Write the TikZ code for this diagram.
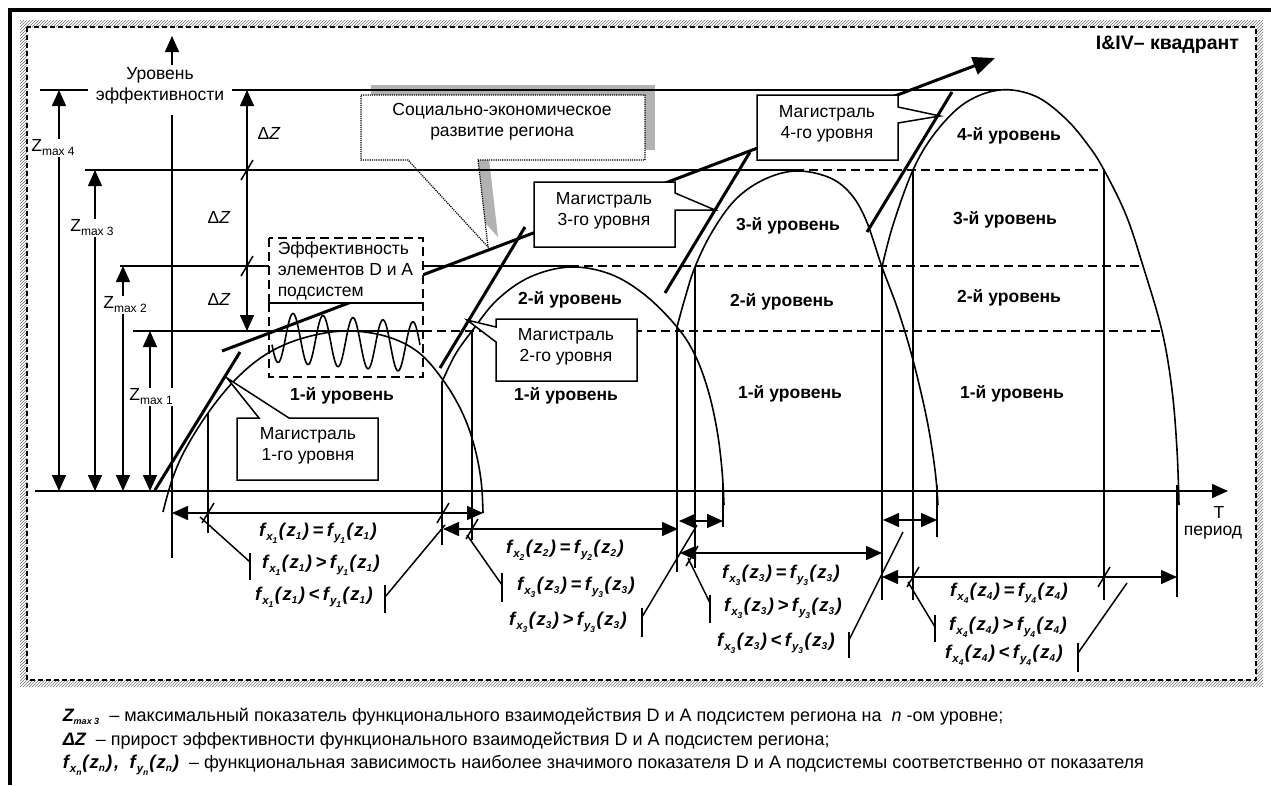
\documentclass[tikz,border=0pt]{standalone}
\usepackage{fontspec}
\setmainfont{Liberation Sans}
\usetikzlibrary{arrows.meta,patterns}
\newcommand\fA{\fontsize{17.5}{21}\selectfont}
\newcommand\fL{\fontsize{18}{22}\selectfont}
\newcommand\zmax[1]{{\fA Z}\raisebox{-4pt}{\fontsize{12}{12}\selectfont max #1}}
\newcommand\fsub[2]{f\kern1pt\raisebox{-4pt}{\fontsize{11.5}{11.5}\selectfont #1\raisebox{-3pt}{\fontsize{8.5}{8.5}\selectfont #2}}}
\newcommand\zsub[1]{z\raisebox{-3.5pt}{\fontsize{10}{10}\selectfont #1}}
\newcommand\frm[2]{{\fontsize{18.5}{20}\selectfont\bfseries\itshape\fsub{x}{#1}\kern1.5pt(\kern1.5pt\zsub{#1}\kern1.5pt)\kern3.5pt#2\kern3.5pt\fsub{y}{#1}\kern1.5pt(\kern1.5pt\zsub{#1}\kern1.5pt)}}
\newcommand\tck[2]{\draw ({#1-6},{#2+10}) -- ({#1+6},{#2-10});}
\begin{document}
\begin{tikzpicture}[x=1pt,y=-1pt,line width=1.5pt,
  >={Triangle[length=16pt,width=14pt]},
  dsh/.style={line width=1.5pt,dash pattern=on 9pt off 5pt},
  mag/.style={line width=3pt},
  arcl/.style={line width=1.6pt},
  mbox/.style={line width=1.5pt,fill=white},
  lbl/.style={font=\fA},
  lvl/.style={font=\fA\bfseries},
  zl/.style={fill=white,inner sep=1pt}]
\path[use as bounding box] (0,0) rectangle (1271,785);
% outer frame
\draw[line width=3.5pt] (10,785) -- (10,10) -- (1271,10);
\fill[pattern=north east lines,pattern color=black!55,even odd rule] (20,20) rectangle (1263,687) (27,27) rectangle (1256,680);
\draw[line width=1.2pt,dash pattern=on 5pt off 3pt] (27,27) rectangle (1256,680);
\node[font=\fontsize{19.5}{23}\selectfont\bfseries,anchor=east] (title) at (1243,45) {I\&IV– квадрант};
% callout social
\fill[gray!60] (371,85) rectangle (655,150);
\fill[gray!60] (418,150) -- (488,150) -- (498,237) -- cycle;
\draw[densely dotted,line width=1.2pt,fill=white] (361,95) -- (645,95) -- (645,160) -- (478,160) -- (488,247) -- (408,160) -- (361,160) -- cycle;
\node[lbl,align=center] (soc) at (502,122) {Социально-экономическое\\развитие региона};
% level lines
\draw (40,90) -- (88,90);
\draw (232,90) -- (1000,90);
\draw (85,170) -- (795,170);
\draw[dsh] (795,170) -- (1105,170);
\draw (120,266) -- (570,266);
\draw[dsh] (570,266) -- (1143,266);
\draw (133,331) -- (423,331);
\draw[dsh] (423,331) -- (1162,331);
% axes
\draw[->] (172,65) -- (172,36);
\draw (172,115) -- (172,558);
\node[lbl,align=center] (yl) at (160,86) {Уровень\\эффективности};
\draw[->] (35,491) -- (1228,491);
\node[lbl] (tl) at (1219,512) {T};
\node[lbl] (per) at (1213,533) {период};
% Z arrows
\draw[<->] (59,90) -- (59,491);
\node[zl] (z4) at (53,148) {\zmax{4}};
\draw[<->] (95,170) -- (95,491);
\node[zl] (z3) at (92,228) {\zmax{3}};
\draw[<->] (123,266) -- (123,491);
\node[zl] (z2) at (125,305) {\zmax{2}};
\draw[<->] (150,331) -- (150,491);
\node[zl] (z1) at (151,397) {\zmax{1}};
% Delta Z
\draw[<->] (247,90) -- (247,331);
\tck{247}{170}
\tck{247}{266}
\node[lbl] (dz1) at (269,133) {Δ\textit{Z}};
\node[lbl] (dz2) at (219,217) {Δ\textit{Z}};
\node[lbl] (dz3) at (219,299) {Δ\textit{Z}};
% arcs
\draw[arcl] plot[smooth,tension=0.6] coordinates {(163,512) (172,480) (185,450) (208,413) (235,380) (265,355) (300,339) (343,331) (385,336) (418,352) (443,380) (462,412) (474,445) (481,480) (483,513)};
\draw[arcl] plot[smooth,tension=0.6] coordinates {(442,382) (455,355) (472,331) (497,300) (530,277) (570,267) (610,274) (645,295) (677,327) (695,355) (708,390) (717,430) (722,470) (724,505)};
\draw[arcl] plot[smooth,tension=0.6] coordinates {(677,327) (685,298) (695,267) (712,232) (735,200) (763,180) (795,171) (828,177) (850,193) (866,220) (882,267) (898,310) (913,360) (927,420) (935,470) (938,505)};
\draw[arcl] plot[smooth,tension=0.6] coordinates {(882,267) (893,225) (913,170) (935,133) (965,103) (1000,90) (1035,96) (1065,118) (1088,145) (1104,170) (1126,215) (1143,266) (1162,331) (1172,390) (1177,450) (1179,505)};
% verticals
\draw (208,413) -- (208,533);
\draw (442,382) -- (442,545);
\draw (472,331) -- (472,540);
\draw (677,327) -- (677,572);
\draw (695,267) -- (695,568);
\draw (723,485) -- (723,527);
\draw (882,267) -- (882,600);
\draw (913,170) -- (913,600);
\draw (937,485) -- (937,537);
\draw (1104,170) -- (1104,600);
\draw (1177,485) -- (1177,597);
% trend and magistral lines
\draw[mag,-{Triangle[length=22pt,width=18pt]}] (222,351) -- (995,58);
\draw[mag] (155,490) -- (240,352);
\draw[mag] (440,368) -- (525,227);
\draw[mag] (665,293) -- (750,152);
\draw[mag] (867,232) -- (952,92);
% efficiency box
\draw[dsh,fill=white] (269,238) rectangle (423,303);
\draw[dsh] (269,303) rectangle (423,377);
\node[lbl,align=left,anchor=west,inner sep=0pt] (eff) at (277,271) {Эффективность\\элементов D и A\\подсистем};
\draw[line width=1.6pt] plot[domain=272:420,samples=240,smooth] (\x,{337+0.07*(\x-272)-25*cos(12*(\x-293))});
% magistral boxes
\draw[mbox] (237,418) -- (259,418) -- (227,378) -- (289,418) -- (378,418) -- (378,480) -- (237,480) -- cycle;
\node[lbl,align=center] (m1) at (308,446) {Магистраль\\1-го уровня};
\draw[mbox] (496,319) -- (637,319) -- (637,381) -- (496,381) -- (496,342) -- (467,320) -- (496,327) -- cycle;
\node[lbl,align=center] (m2) at (566,347) {Магистраль\\2-го уровня};
\draw[mbox] (534,182) -- (675,182) -- (675,193) -- (715,210) -- (675,210) -- (675,247) -- (534,247) -- cycle;
\node[lbl,align=center] (m3) at (604,211) {Магистраль\\3-го уровня};
\draw[mbox] (757,95) -- (898,95) -- (898,107) -- (940,116) -- (898,123) -- (898,160) -- (757,160) -- cycle;
\node[lbl,align=center] (m4) at (827,124) {Магистраль\\4-го уровня};
% level labels
\node[lvl] (l11) at (342,396) {1-й уровень};
\node[lvl] (l22) at (570,300) {2-й уровень};
\node[lvl] (l21) at (566,396) {1-й уровень};
\node[lvl] (l33) at (788,226) {3-й уровень};
\node[lvl] (l32) at (782,302) {2-й уровень};
\node[lvl] (l31) at (790,394) {1-й уровень};
\node[lvl] (l44) at (1009,136) {4-й уровень};
\node[lvl] (l43) at (1005,220) {3-й уровень};
\node[lvl] (l42) at (1009,298) {2-й уровень};
\node[lvl] (l41) at (1012,394) {1-й уровень};
% dimension rows
\draw[<->] (172,513) -- (483,513);
\tck{208}{513}
\tck{443}{513}
\draw[<->] (443,529) -- (678,529);
\tck{472}{529}
\draw[<->] (679,521) -- (723,521);
\draw[<->] (680,553) -- (882,553);
\tck{692}{556}
\draw[<->] (883,520) -- (937,520);
\draw[<->] (882,577) -- (1177,577);
\tck{913}{577}
\tck{1104}{577}
% leaders
\draw (200,517) -- (250,562); \draw (250,553) -- (250,580);
\draw (445,525) -- (385,597); \draw (385,585) -- (385,613);
\draw (467,535) -- (502,585); \draw (502,573) -- (502,602);
\draw (697,525) -- (642,617); \draw (642,608) -- (642,637);
\draw (688,558) -- (710,603); \draw (710,595) -- (710,623);
\draw (903,532) -- (849,640); \draw (849,632) -- (849,658);
\draw (908,582) -- (935,627); \draw (935,615) -- (935,642);
\draw (1127,583) -- (1078,653); \draw (1078,643) -- (1078,672);
% formulas
\node (f11) at (318,533) {\frm{1}{=}};
\node (f12) at (321,565) {\frm{1}{>}};
\node (f13) at (314,597) {\frm{1}{<}};
\node (f21) at (565,550) {\frm{2}{=}};
\node (f22) at (576,587) {\frm{3}{=}};
\node (f23) at (568,622) {\frm{3}{>}};
\node (f31) at (781,575) {\frm{3}{=}};
\node (f32) at (783,608) {\frm{3}{>}};
\node (f33) at (776,643) {\frm{3}{<}};
\node (f41) at (1009,593) {\frm{4}{=}};
\node (f42) at (1008,627) {\frm{4}{>}};
\node (f43) at (1004,655) {\frm{4}{<}};
% legend
\node[font=\fL,anchor=west,inner sep=0pt] (leg1) at (62,717) {{\bfseries\itshape Z\raisebox{-3pt}{\fontsize{9}{9}\selectfont max 3}}\ \ – максимальный показатель функционального взаимодействия D и A подсистем региона на \ \textit{n} -ом уровне;};
\node[font=\fL,anchor=west,inner sep=0pt] (leg2) at (62,741) {{\bfseries\itshape ΔZ}\ \ – прирост эффективности функционального взаимодействия D и A подсистем региона;};
\node[font=\fL,anchor=west,inner sep=0pt] (leg3) at (62,765) {{\fontsize{18.5}{20}\selectfont\bfseries\itshape\fsub{x}{n}\kern1pt(\kern1pt\zsub{n}\kern1pt)\kern2pt,\ \ \fsub{y}{n}\kern1pt(\kern1pt\zsub{n}\kern1pt)}\ \ – функциональная зависимость наиболее значимого показателя D и A подсистемы соответственно от показателя};
\end{tikzpicture}
\end{document}
